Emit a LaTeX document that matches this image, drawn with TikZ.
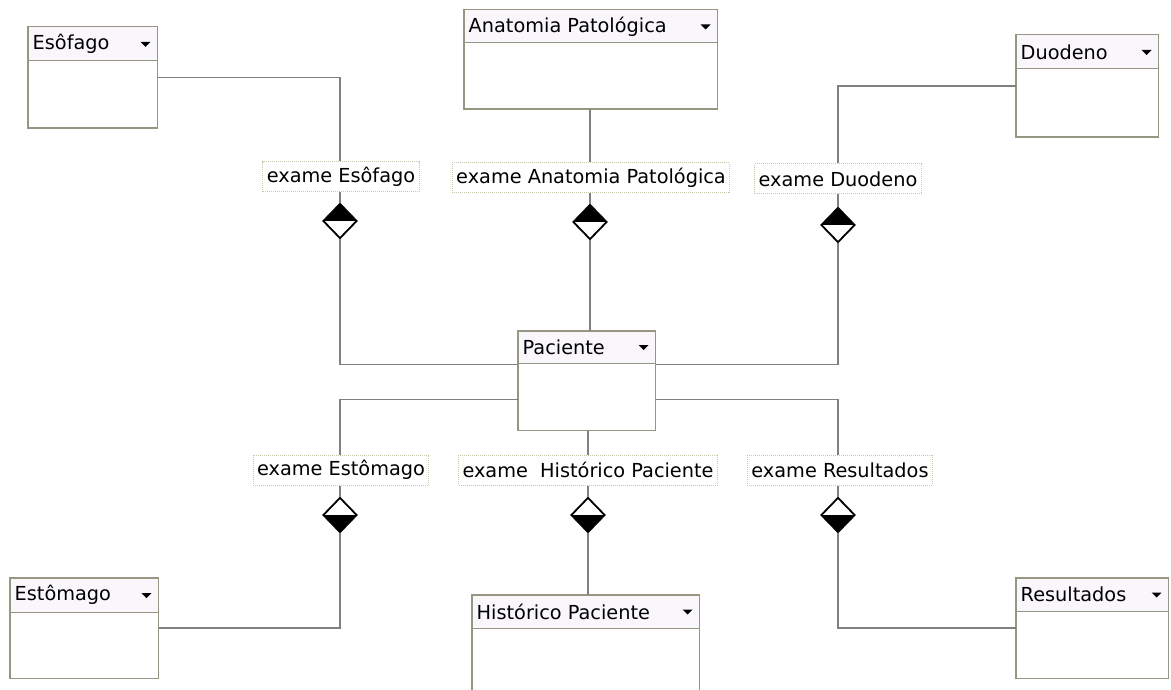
\documentclass[tikz,border=0pt]{standalone}
\usepackage{fontspec}
\setmainfont{DejaVu Sans}
\usetikzlibrary{shapes.geometric}
\definecolor{conncol}{RGB}{128,128,128}
\definecolor{boxcol}{RGB}{150,150,130}
\definecolor{shadcol}{RGB}{110,110,100}
\definecolor{lblcol}{RGB}{200,200,170}
\definecolor{hdrcol}{RGB}{250,247,252}
\tikzset{
  conn/.style={draw=conncol, line width=1.1pt},
  clsbox/.style={draw=boxcol, fill=white, line width=1pt, inner sep=0pt},
  clsshadow/.style={draw=shadcol, line width=1.8pt},
  hdrtext/.style={anchor=west, inner sep=0pt, font=\fontsize{19.3}{21}\selectfont},
  lbl/.style={draw=lblcol, densely dotted, fill=white, line width=1pt, inner xsep=4pt, inner ysep=0pt, minimum height=30pt, font=\fontsize{19.3}{21}\selectfont},
  dia/.style={diamond, draw=black, fill=white, line width=1.8pt, inner sep=0pt, minimum width=34pt, minimum height=35pt},
  dtop/.style={dia, path picture={\fill[black] (path picture bounding box.west) -- (path picture bounding box.north) -- (path picture bounding box.east) -- cycle;}},
  dbot/.style={dia, path picture={\fill[black] (path picture bounding box.west) -- (path picture bounding box.south) -- (path picture bounding box.east) -- cycle;}}
}
% \classbox{name}{x1}{y1}{x2}{y2}{header line y}{title}
\newcommand{\classbox}[7]{%
  \node[clsbox, minimum width={(#4-#2)*1pt}, minimum height={(#5-#3)*1pt}] (#1) at ({(#2+#4)/2},{(#3+#5)/2}) {};
  \fill[hdrcol] ([xshift=1pt,yshift=-1pt]#1.north west) rectangle ([xshift=-1pt]#1.east |- 0,#6);
  \draw[boxcol, line width=1pt] (#1.west |- 0,#6) -- (#1.east |- 0,#6);
  \draw[clsshadow] ([yshift=-0.5pt]#1.north east) -- (#1.south east) -- (#1.south west);
  \draw[boxcol, line width=1pt] (#1.north west) rectangle (#1.south east);
  \node[hdrtext] (#1-title) at ([xshift=5pt]#1.west |- 0,{(#3+#6)/2}) {#7};
  \fill[black] ([xshift=-7pt]#1.east |- 0,{(#3+#6)/2-2}) -- ++(-10,0) -- ++(5,5) -- cycle;
}
\begin{document}
\begin{tikzpicture}[x=1pt,y=-1pt]
\useasboundingbox[fill=white] (0,0) rectangle (1171,690);

% class boxes
\classbox{esof}{28}{27}{157}{128}{61}{Esôfago}
\classbox{anat}{464}{10}{717}{109}{43}{Anatomia Patológica}
\classbox{duod}{1016}{35}{1158}{137}{69}{Duodeno}
\classbox{pac}{518}{331}{655}{430}{363}{Paciente}
\classbox{est}{10}{578}{158}{678}{612}{Estômago}
\classbox{hist}{472}{595}{699}{720}{628}{Histórico Paciente}
\classbox{res}{1016}{578}{1168}{678}{611}{Resultados}

% labels
\node[lbl] (lesof) at (341,177) {exame Esôfago};
\node[lbl] (lanat) at (591,178) {exame Anatomia Patológica};
\node[lbl] (lduod) at (838,179) {exame Duodeno};
\node[lbl] (lest) at (341,470) {exame Estômago};
\node[lbl] (lhist) at (588,470) {exame\ \ Histórico Paciente};
\node[lbl] (lres) at (840,470) {exame Resultados};

% diamonds
\node[dtop] (desof) at (340,221) {};
\node[dtop] (danat) at (590,222) {};
\node[dtop] (dduod) at (838,225) {};
\node[dbot] (dest) at (340,515) {};
\node[dbot] (dhist) at (588,515) {};
\node[dbot] (dres) at (838,515) {};

% connectors: Esôfago
\draw[conn] (esof.east) -| (desof.north |- lesof.north);
\draw[conn] (desof.north |- lesof.south) -- (desof.north);
\draw[conn] (desof.south) |- ([yshift=16pt]pac.west);
% Anatomia
\draw[conn] (danat.north |- anat.south) -- (danat.north |- lanat.north);
\draw[conn] (danat.north |- lanat.south) -- (danat.north);
\draw[conn] (danat.south) -- (danat.south |- pac.north);
% Duodeno
\draw[conn] (duod.west) -| (dduod.north |- lduod.north);
\draw[conn] (dduod.north |- lduod.south) -- (dduod.north);
\draw[conn] (dduod.south) |- ([yshift=16pt]pac.east);
% Estômago
\draw[conn] ([yshift=-19pt]pac.west) -| (dest.north |- lest.north);
\draw[conn] (dest.north |- lest.south) -- (dest.north);
\draw[conn] (dest.south) |- (est.east);
% Histórico
\draw[conn] (dhist.north |- pac.south) -- (dhist.north |- lhist.north);
\draw[conn] (dhist.north |- lhist.south) -- (dhist.north);
\draw[conn] (dhist.south) -- (dhist.south |- hist.north);
% Resultados
\draw[conn] ([yshift=-19pt]pac.east) -| (dres.north |- lres.north);
\draw[conn] (dres.north |- lres.south) -- (dres.north);
\draw[conn] (dres.south) |- (res.west);
\end{tikzpicture}
\end{document}
